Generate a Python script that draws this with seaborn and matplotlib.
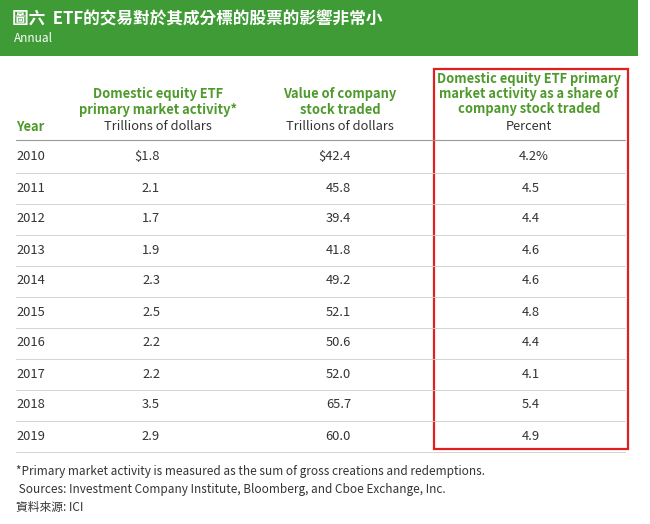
import matplotlib
matplotlib.use("Agg")
import matplotlib.pyplot as plt
import seaborn as sns

sns.set_theme(style="white", rc={"font.family": "Noto Sans CJK TC"})

years = ["2010","2011","2012","2013","2014","2015","2016","2017","2018","2019"]
etf_activity = ["$1.8","2.1","1.7","1.9","2.3","2.5","2.2","2.2","3.5","2.9"]
stock_traded = ["$42.4","45.8","39.4","41.8","49.2","52.1","50.6","52.0","65.7","60.0"]
share_pct = ["4.2%","4.5","4.4","4.6","4.6","4.8","4.4","4.1","5.4","4.9"]

title = "圖六  ETF的交易對於其成分標的股票的影響非常小"
subtitle = "Annual"
footnotes = ["*Primary market activity is measured as the sum of gross creations and redemptions.",
             " Sources: Investment Company Institute, Bloomberg, and Cboe Exchange, Inc.",
             "資料來源: ICI"]

GREEN = "#3f9b35"
HGREEN = "#4e9a2c"
TXT = "#333333"

fig = plt.figure(figsize=(6.5, 5.24), dpi=100)
ax = fig.add_axes([0, 0, 1, 1])
ax.set_xlim(0, 650); ax.set_ylim(524, 0); ax.axis("off")

ax.add_patch(plt.Rectangle((0, 0), 638, 56, color=GREEN, lw=0))
ax.text(12, 19, title, color="white", fontsize=12, fontweight="bold", va="center")
ax.text(14, 38, subtitle, color="white", fontsize=8.5, va="center")

hs = 9.3
ax.text(16, 127, "Year", color=HGREEN, fontsize=hs, fontweight="bold", va="center")
ax.text(158, 102, "Domestic equity ETF\nprimary market activity*", color=HGREEN, fontsize=hs,
        fontweight="bold", ha="center", va="center", linespacing=1.1)
ax.text(158, 127, "Trillions of dollars", color=TXT, fontsize=hs, ha="center", va="center")
ax.text(340, 102, "Value of company\nstock traded", color=HGREEN, fontsize=hs,
        fontweight="bold", ha="center", va="center", linespacing=1.1)
ax.text(340, 127, "Trillions of dollars", color=TXT, fontsize=hs, ha="center", va="center")
ax.text(529, 94, "Domestic equity ETF primary\nmarket activity as a share of\ncompany stock traded",
        color=HGREEN, fontsize=hs, fontweight="bold", ha="center", va="center", linespacing=1.1)
ax.text(529, 127, "Percent", color=TXT, fontsize=hs, ha="center", va="center")
ax.plot([16, 625], [140, 140], color="#999999", lw=0.8)

for i, (y, a, b, c) in enumerate(zip(years, etf_activity, stock_traded, share_pct)):
    yy = 157 + i * 31
    ax.text(16, yy, y, color=TXT, fontsize=hs, va="center")
    ax.text(160, yy, a, color=TXT, fontsize=hs, va="center", ha="right")
    ax.text(351, yy, b, color=TXT, fontsize=hs, va="center", ha="right")
    ax.text(549 if c.endswith("%") else 540, yy, c, color=TXT, fontsize=hs, va="center", ha="right")
    ax.plot([16, 625], [yy + 15.5, yy + 15.5], color="#cccccc", lw=0.6)

ax.add_patch(plt.Rectangle((434, 69), 194, 380, fill=False, ec="#e02020", lw=1.6))

for j, f in enumerate(footnotes):
    ax.text(16, 471 + j * 18, f, color=TXT, fontsize=8.5, va="center")

fig.savefig("out.png", dpi=100)
